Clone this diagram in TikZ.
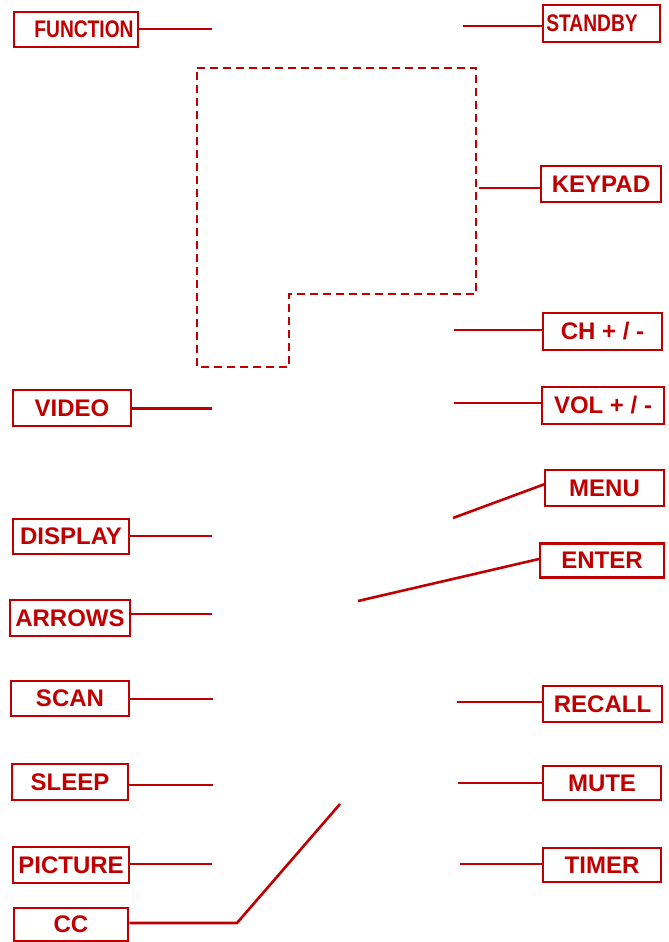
\documentclass[tikz,border=0pt]{standalone}
\usepackage{fontspec}
\setmainfont{Liberation Sans}
\usetikzlibrary{calc, positioning}
\definecolor{remred}{RGB}{192,0,0}

\begin{document}
\begin{tikzpicture}[x=1pt, y=-1pt,
  key/.style={draw=remred, line width=2.6pt, text=remred, inner sep=0pt,
    font=\fontsize{24}{28}\selectfont\bfseries, fill=white},
  lead/.style={draw=remred, line width=2.6pt}]
  \useasboundingbox (0,0) rectangle (669,942);
  % keypad outline
  \draw[lead, dash pattern=on 8pt off 5pt]
    (197,68) -- (476,68) -- (476,294) -- (289,294) -- (289,367) -- (197,367) -- cycle;
  % left column
  \node[key, minimum width=124pt, minimum height=35pt] (fn) at (76,29.5)
    {\hspace*{16pt}\scalebox{0.8}[1]{FUNCTION}};
  \node[key, minimum width=118pt, minimum height=36pt] (video) at (72,408) {VIDEO};
  \node[key, minimum width=116pt, minimum height=35pt] (display) at (71,536.5) {DISPLAY};
  \node[key, minimum width=120pt, minimum height=36pt] (arrows) at (70,618) {ARROWS};
  \node[key, minimum width=118pt, minimum height=35pt] (scan) at (70,698.5) {SCAN};
  \node[key, minimum width=116pt, minimum height=36pt] (sleep) at (70,782) {SLEEP};
  \node[key, minimum width=116pt, minimum height=36pt] (picture) at (71,865) {PICTURE};
  \node[key, minimum width=114pt, minimum height=33pt] (cc) at (71,924.5) {CC};
  % right column
  \node[key, minimum width=117pt, minimum height=37pt] (standby) at (601.5,23.5)
    {\scalebox{0.8}[1]{STANDBY}\hspace*{19pt}};
  \node[key, minimum width=120pt, minimum height=36pt] (keypad) at (601,184) {KEYPAD};
  \node[key, minimum width=119pt, minimum height=37pt] (ch) at (602.5,331.5) {CH + / -};
  \node[key, minimum width=122pt, minimum height=37pt] (vol) at (603,405.5) {VOL + / -};
  \node[key, minimum width=119pt, minimum height=36pt] (menu) at (604.5,488) {MENU};
  \node[key, minimum width=124pt, minimum height=34pt] (enter) at (602,560.5) {ENTER};
  \node[key, minimum width=119pt, minimum height=36pt] (recall) at (602.5,704) {RECALL};
  \node[key, minimum width=118pt, minimum height=34pt] (mute) at (602,783) {MUTE};
  \node[key, minimum width=118pt, minimum height=34pt] (timer) at (602,865) {TIMER};
  % free ends of the leads
  \coordinate (fnEnd) at (212,29);
  \coordinate (videoEnd) at (212,408.5);
  \coordinate (displayEnd) at (212,536);
  \coordinate (arrowsEnd) at (212,614);
  \coordinate (scanEnd) at (213,699);
  \coordinate (sleepEnd) at (213,785);
  \coordinate (pictureEnd) at (212,864);
  \coordinate (ccBend) at (237,923);
  \coordinate (ccEnd) at (340,804);
  \coordinate (standbyEnd) at (463,26);
  \coordinate (keypadEnd) at (479,188);
  \coordinate (chEnd) at (454,330);
  \coordinate (volEnd) at (454,403);
  \coordinate (menuEnd) at (453,518);
  \coordinate (menuTip) at (545,484);
  \coordinate (enterEnd) at (358,601);
  \coordinate (enterTip) at (539,559);
  \coordinate (recallEnd) at (457,702);
  \coordinate (muteEnd) at (458,783);
  \coordinate (timerEnd) at (460,864);
  % leads
  \foreach \k in {fn, video, display, arrows, scan, sleep, picture} {
    \draw[lead] (\k End -| \k.east) -- (\k End);
  }
  \draw[lead] (ccBend -| cc.east) -- (ccBend) -- (ccEnd);
  \foreach \k in {standby, keypad, ch, vol, recall, mute, timer} {
    \draw[lead] (\k End) -- (\k End -| \k.west);
  }
  \draw[lead] (menuEnd) -- (menuTip);
  \draw[lead] (enterEnd) -- (enterTip);
\end{tikzpicture}
\end{document}
